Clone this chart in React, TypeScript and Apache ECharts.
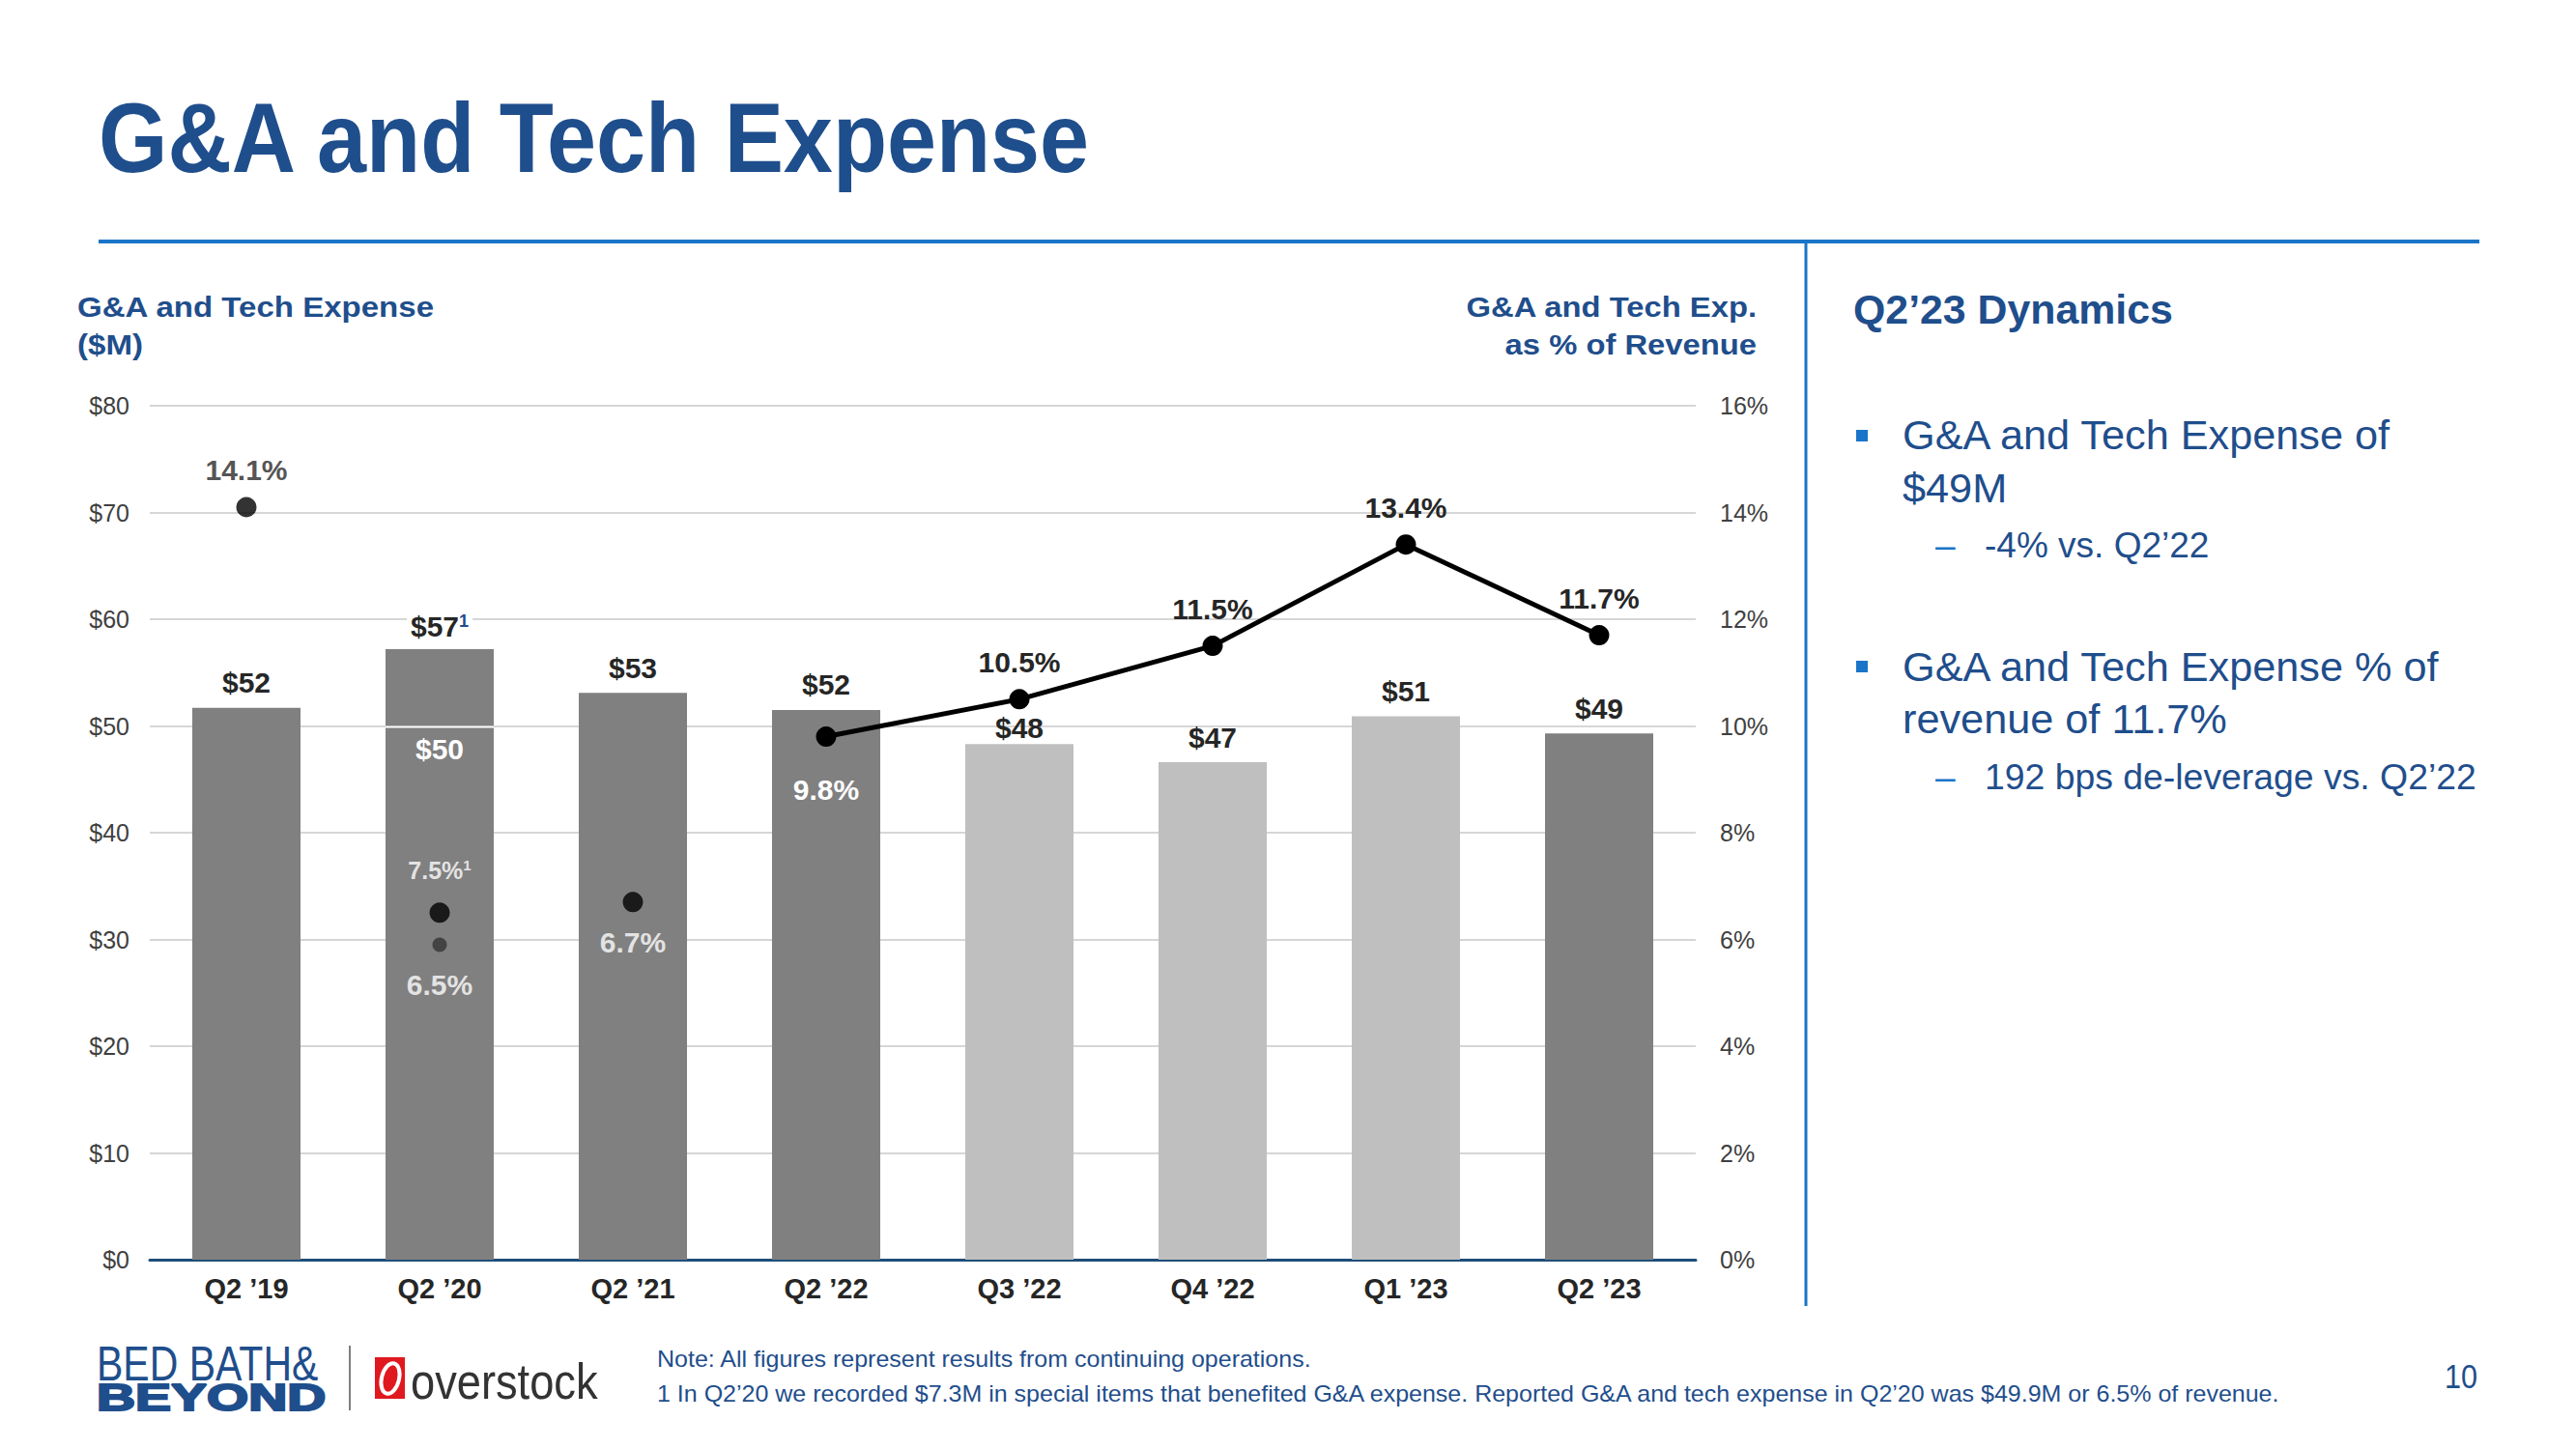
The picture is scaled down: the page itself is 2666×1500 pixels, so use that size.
import React, { useEffect, useRef } from "react";
import * as echarts from "echarts";

// ---------- DATA ----------
const categories = ["Q2 ’19", "Q2 ’20", "Q2 ’21", "Q2 ’22", "Q3 ’22", "Q4 ’22", "Q1 ’23", "Q2 ’23"];
const expenseValues = [51.7, 57.2, 53.1, 51.5, 48.3, 46.6, 50.9, 49.3];
const expenseLabels = ["$52", "$57", "$53", "$52", "$48", "$47", "$51", "$49"];
const barShade = ["dark", "dark", "dark", "dark", "light", "light", "light", "dark"];
const reportedCategory = "Q2 ’20";
const reportedExpense = 49.9;
const reportedExpenseLabel = "$50";
const trendPct: (number | null)[] = [null, null, null, 9.8, 10.5, 11.5, 13.4, 11.7];
const trendLabels = ["", "", "", "9.8%", "10.5%", "11.5%", "13.4%", "11.7%"];
const pointCategories = ["Q2 ’19", "Q2 ’20", "Q2 ’21"];
const pointPct = [14.1, 6.5, 6.7]; // plotted as drawn in the reference
const pointLabels = ["14.1%", "7.5%", "6.7%"];
const reportedPointCategory = "Q2 ’20";
const reportedPointPct = 5.9; // plotted as drawn in the reference
const reportedPointLabel = "6.5%";
const leftTicks = { min: 0, max: 80, interval: 10 };
const rightTicks = { min: 0, max: 16, interval: 2 };

const titleText = "G&A and Tech Expense";
const leftAxisTitle = ["G&A and Tech Expense", "($M)"];
const rightAxisTitle = ["G&A and Tech Exp.", "as % of Revenue"];
const panelTitle = "Q2’23 Dynamics";
const bullet1 = ["G&A and Tech Expense of", "$49M"];
const bullet1Sub = "-4% vs. Q2’22";
const bullet2 = ["G&A and Tech Expense % of", "revenue of 11.7%"];
const bullet2Sub = "192 bps de-leverage vs. Q2’22";
const noteLines = [
  "Note: All figures represent results from continuing operations.",
  "1 In Q2’20 we recorded $7.3M in special items that benefited G&A expense. Reported G&A and tech expense in Q2’20 was $49.9M or 6.5% of revenue.",
];
const pageNumber = "10";

// ---------- STYLE ----------
const FONT = "'Liberation Sans', Arial, Helvetica, sans-serif";
const NAVY = "#1f4e8c";
const BRIGHT = "#1a75c9";
const DARK_BAR = "#808080";
const LIGHT_BAR = "#bfbfbf";
const LABEL = "#262626";
const DOT = 21;

type TxtOpt = { size: number; weight?: string; color?: string; align?: string; sx?: number; stroke?: string; lw?: number };
const txt = (text: string, x: number, y: number, o: TxtOpt) => ({
  type: "text",
  x,
  y,
  scaleX: o.sx ?? 1,
  silent: true,
  style: {
    text,
    fill: o.color ?? NAVY,
    font: `${o.weight ?? "normal"} ${o.size}px ${FONT}`,
    textAlign: o.align ?? "left",
    textVerticalAlign: "middle",
    align: o.align ?? "left",
    verticalAlign: "middle",
    stroke: o.stroke,
    lineWidth: o.lw ?? 0,
  },
});

function buildOption() {
  const barData = expenseValues.map((v, i) => {
    const item: any = {
      value: v,
      itemStyle: { color: barShade[i] === "dark" ? DARK_BAR : LIGHT_BAR },
    };
    if (i === 1) {
      item.label = {
        formatter: `{v|${expenseLabels[i]}}{s|1}`,
        backgroundColor: "#fff",
        padding: [0, 4, 0, 4],
        distance: 8,
      };
    } else if (i === 4) {
      item.label = { distance: 2 };
    }
    return item;
  });

  const trendData = trendPct.map((v, i) => {
    if (v == null) return "-";
    const item: any = { value: v };
    if (i === 3) item.label = { position: "bottom", color: "#fff", distance: 29 };
    return item;
  });

  const pointData = pointPct.map((v, i) => {
    const item: any = { value: [categories.indexOf(pointCategories[i]), v] };
    if (i === 0) item.label = { position: "top", distance: 13, formatter: pointLabels[i] };
    if (i === 1)
      item.label = {
        position: "top",
        distance: 21,
        formatter: `{v|${pointLabels[i]}}{s|1}`,
        rich: {
          v: { fontSize: 25, fontWeight: "bold", color: "#fff", fontFamily: FONT },
          s: { fontSize: 15, fontWeight: "bold", color: "#fff", fontFamily: FONT, verticalAlign: "top" },
        },
      };
    if (i === 2) item.label = { position: "bottom", distance: 16, color: "#fff", formatter: pointLabels[i] };
    return item;
  });

  const axisTitleSize = 29;

  return {
    animation: false,
    backgroundColor: "#ffffff",
    tooltip: { show: false },
    grid: { left: 155, top: 420, width: 1600, height: 884, containLabel: false },
    xAxis: {
      type: "category",
      data: categories,
      axisLine: { lineStyle: { color: "#1f4e79", width: 3 } },
      axisTick: { show: false },
      axisLabel: { fontSize: 29, fontWeight: "bold", color: LABEL, margin: 15, fontFamily: FONT },
    },
    yAxis: [
      {
        type: "value",
        ...leftTicks,
        axisLabel: { formatter: "${value}", fontSize: 25, color: "#404040", margin: 21, fontFamily: FONT },
        splitLine: { lineStyle: { color: "#c8c8c8", width: 1.5 } },
        axisLine: { show: false },
        axisTick: { show: false },
      },
      {
        type: "value",
        position: "right",
        ...rightTicks,
        axisLabel: { formatter: "{value}%", fontSize: 25, color: "#404040", margin: 25, fontFamily: FONT },
        splitLine: { show: false },
        axisLine: { show: false },
        axisTick: { show: false },
      },
    ],
    series: [
      {
        name: "G&A and Tech Expense",
        type: "bar",
        yAxisIndex: 0,
        barWidth: 112,
        data: barData,
        z: 2,
        label: {
          show: true,
          position: "top",
          distance: 11,
          fontSize: 30,
          fontWeight: "bold",
          color: LABEL,
          fontFamily: FONT,
          formatter: (p: any) => expenseLabels[p.dataIndex],
          rich: {
            v: { fontSize: 30, fontWeight: "bold", color: LABEL, fontFamily: FONT },
            s: { fontSize: 18, color: NAVY, fontFamily: FONT, verticalAlign: "top" },
          },
        },
        emphasis: { disabled: true },
      },
      {
        name: "Reported Q2'20",
        type: "custom",
        yAxisIndex: 0,
        z: 3,
        data: [[categories.indexOf(reportedCategory), reportedExpense]],
        encode: { x: 0, y: 1 },
        renderItem: (params: any, api: any) => {
          const pt = api.coord([api.value(0), api.value(1)]);
          const bw = api.size([1, 0])[0] * 0.56;
          return {
            type: "group",
            children: [
              {
                type: "line",
                shape: { x1: pt[0] - bw / 2, y1: pt[1], x2: pt[0] + bw / 2, y2: pt[1] },
                style: { stroke: "#ffffff", lineWidth: 2 },
              },
              {
                type: "text",
                x: pt[0],
                y: pt[1] + 23,
                style: {
                  text: reportedExpenseLabel,
                  fill: "#ffffff",
                  font: `bold 30px ${FONT}`,
                  align: "center",
                  verticalAlign: "middle",
                  textAlign: "center",
                  textVerticalAlign: "middle",
                },
              },
            ],
          };
        },
      },
      {
        name: "% of Revenue",
        type: "line",
        yAxisIndex: 1,
        data: trendData,
        z: 5,
        symbol: "circle",
        symbolSize: DOT,
        lineStyle: { color: "#000", width: 5 },
        itemStyle: { color: "#000" },
        label: {
          show: true,
          position: "top",
          distance: 13,
          fontSize: 30,
          fontWeight: "bold",
          color: LABEL,
          fontFamily: FONT,
          formatter: (p: any) => trendLabels[p.dataIndex],
        },
        emphasis: { disabled: true },
      },
      {
        name: "% of Revenue (prior years)",
        type: "scatter",
        yAxisIndex: 1,
        data: pointData,
        z: 5,
        symbol: "circle",
        symbolSize: DOT,
        itemStyle: { color: "#000" },
        label: { show: true, fontSize: 30, fontWeight: "bold", color: LABEL, fontFamily: FONT },
        emphasis: { disabled: true },
      },
      {
        name: "Reported % of Revenue",
        type: "scatter",
        yAxisIndex: 1,
        data: [[categories.indexOf(reportedPointCategory), reportedPointPct]],
        z: 5,
        symbol: "circle",
        symbolSize: 15,
        itemStyle: { color: "#333333" },
        label: {
          show: true,
          position: "bottom",
          distance: 19,
          fontSize: 30,
          fontWeight: "bold",
          color: "#fff",
          fontFamily: FONT,
          formatter: reportedPointLabel,
        },
        emphasis: { disabled: true },
      },
    ],
    graphic: [
      // title
      txt(titleText, 102, 143, { size: 102, weight: "bold", sx: 0.9 }),
      { type: "line", silent: true, shape: { x1: 102, y1: 250, x2: 2566, y2: 250 }, style: { stroke: BRIGHT, lineWidth: 4 } },
      { type: "line", silent: true, shape: { x1: 1869, y1: 250, x2: 1869, y2: 1352 }, style: { stroke: BRIGHT, lineWidth: 3 } },
      // axis titles
      txt(leftAxisTitle[0], 80, 318, { size: axisTitleSize, weight: "bold", sx: 1.14 }),
      txt(leftAxisTitle[1], 80, 357, { size: axisTitleSize, weight: "bold", sx: 1.14 }),
      txt(rightAxisTitle[0], 1818, 318, { size: axisTitleSize, weight: "bold", sx: 1.13, align: "right" }),
      txt(rightAxisTitle[1], 1818, 357, { size: axisTitleSize, weight: "bold", sx: 1.13, align: "right" }),
      // right panel
      txt(panelTitle, 1918, 321, { size: 42, weight: "bold", sx: 1.02 }),
      { type: "rect", silent: true, shape: { x: 1921, y: 445, width: 12, height: 12 }, style: { fill: BRIGHT } },
      txt(bullet1[0], 1969, 450, { size: 42, sx: 1.03 }),
      txt(bullet1[1], 1969, 505, { size: 42, sx: 1.03 }),
      txt("–", 2003, 564, { size: 37, color: BRIGHT }),
      txt(bullet1Sub, 2054, 564, { size: 37 }),
      { type: "rect", silent: true, shape: { x: 1921, y: 684, width: 12, height: 12 }, style: { fill: BRIGHT } },
      txt(bullet2[0], 1969, 690, { size: 42, sx: 1.03 }),
      txt(bullet2[1], 1969, 744, { size: 42, sx: 1.03 }),
      txt("–", 2003, 804, { size: 37, color: BRIGHT }),
      txt(bullet2Sub, 2054, 804, { size: 37, sx: 1.01 }),
      // footer logos
      txt("BED BATH&", 100, 1412, { size: 50, sx: 0.82 }),
      txt("BEYOND", 100, 1447, { size: 38, weight: "bold", sx: 1.46, stroke: NAVY, lw: 2 }),
      { type: "line", silent: true, shape: { x1: 362, y1: 1393, x2: 362, y2: 1460 }, style: { stroke: "#555", lineWidth: 1.5 } },
      { type: "rect", silent: true, shape: { x: 388, y: 1405, width: 31, height: 43 }, style: { fill: "#e0191f" } },
      {
        type: "ellipse",
        silent: true,
        x: 404,
        y: 1427,
        rotation: -0.25,
        shape: { cx: 0, cy: 0, rx: 9, ry: 16 },
        style: { fill: "none", stroke: "#ffffff", lineWidth: 4 },
      },
      txt("overstock", 425, 1430, { size: 52, color: "#333333", sx: 0.87 }),
      // notes
      txt(noteLines[0], 680, 1407, { size: 23, sx: 1.087 }),
      txt(noteLines[1], 680, 1443, { size: 23, sx: 1.087 }),
      txt(pageNumber, 2547, 1425, { size: 36, sx: 0.85, align: "center" }),
    ],
  };
}

export default function App() {
  const ref = useRef<HTMLDivElement>(null);
  useEffect(() => {
    document.body.style.margin = "0";
    if (!ref.current) return;
    const chart = echarts.init(ref.current, undefined, { renderer: "svg" });
    chart.setOption(buildOption() as any);
    return () => chart.dispose();
  }, []);
  return (
    <div
      ref={ref}
      style={{ position: "absolute", left: 0, top: 0, width: 2666, height: 1500, background: "#ffffff" }}
    />
  );
}
